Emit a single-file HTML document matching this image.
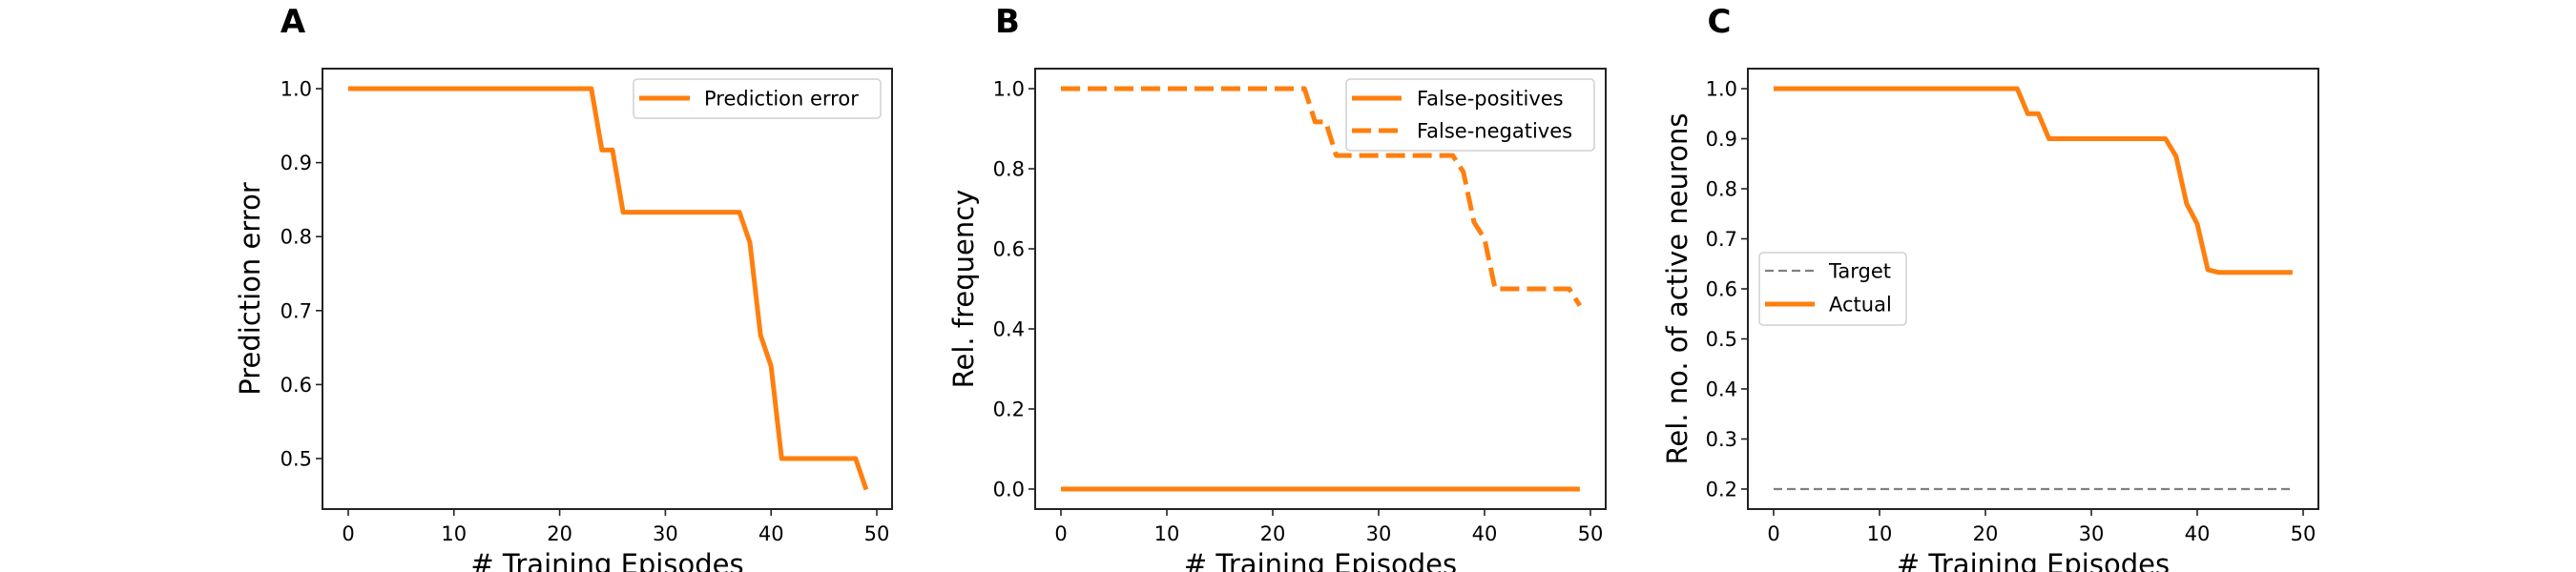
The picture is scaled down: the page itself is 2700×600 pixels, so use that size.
<!DOCTYPE html>
<html><head><meta charset="utf-8"><style>
body{margin:0;background:#fff}
svg{display:block;font-family:"DejaVu Sans","Liberation Sans",sans-serif}
</style></head><body>
<svg id="fig" width="2700" height="600" viewBox="0 0 2700 600"></svg>
<script>
const episodes = Array.from({length:50},(_,i)=>i);
const predError = [1,1,1,1,1,1,1,1,1,1,1,1,1,1,1,1,1,1,1,1,1,1,1,1,0.917,0.917,0.833,0.833,0.833,0.833,0.833,0.833,0.833,0.833,0.833,0.833,0.833,0.833,0.792,0.667,0.625,0.5,0.5,0.5,0.5,0.5,0.5,0.5,0.5,0.458];
const falsePos = new Array(50).fill(0);
const falseNeg = [1,1,1,1,1,1,1,1,1,1,1,1,1,1,1,1,1,1,1,1,1,1,1,1,0.917,0.917,0.833,0.833,0.833,0.833,0.833,0.833,0.833,0.833,0.833,0.833,0.833,0.833,0.792,0.667,0.625,0.5,0.5,0.5,0.5,0.5,0.5,0.5,0.5,0.458];
const actual = [1,1,1,1,1,1,1,1,1,1,1,1,1,1,1,1,1,1,1,1,1,1,1,1,0.95,0.95,0.9,0.9,0.9,0.9,0.9,0.9,0.9,0.9,0.9,0.9,0.9,0.9,0.865,0.77,0.73,0.638,0.633,0.633,0.633,0.633,0.633,0.633,0.633,0.633];
const target = new Array(50).fill(0.2);
const xTicks = [0,10,20,30,40,50];
const yTicksA = [0.5,0.6,0.7,0.8,0.9,1.0];
const yTicksB = [0,0.2,0.4,0.6,0.8,1.0];
const yTicksC = [0.2,0.3,0.4,0.5,0.6,0.7,0.8,0.9,1.0];

const svg=document.getElementById('fig');
const NS='http://www.w3.org/2000/svg';
function mk(tag,attrs,parent,text){const e=document.createElementNS(NS,tag);for(const k in attrs)e.setAttribute(k,attrs[k]);if(text!==undefined)e.textContent=text;(parent||svg).appendChild(e);return e;}
const OR='#ff7f0e';

function panel(cfg){
  const g=mk('g',{});
  
  
  const sx=v=>cfg.x0+(v-0)*(cfg.x50-cfg.x0)/50;
  const sy=v=>cfg.yTop+(cfg.vTop-v)*(cfg.yBot-cfg.yTop)/(cfg.vTop-cfg.vBot);
  const L=mk('text',{x:cfg.letterX,y:34,'font-size':34,'font-weight':'bold','text-anchor':'middle'},g,cfg.letter);
  
  
  cfg.series.forEach(s=>{
    const pts=episodes.map((e,i)=>sx(e).toFixed(1)+','+sy(s.data[i]).toFixed(1)).join(' ');
    const p=mk('polyline',{points:pts,fill:'none',stroke:s.color,'stroke-width':s.w,'stroke-dasharray':s.dash||'none','stroke-linejoin':'round'},g);
    
    
  });
  const box=mk('rect',{x:cfg.left,y:72,width:cfg.right-cfg.left,height:462,fill:'none',stroke:'#222','stroke-width':2},g);
  
  
  xTicks.forEach(t=>{
    const X=sx(t);
    mk('line',{x1:X,y1:534,x2:X,y2:541,stroke:'#222','stroke-width':1.6},g);
    const tl=mk('text',{x:X,y:567,'font-size':21,'text-anchor':'middle'},g,String(t));
    
    
  });
  cfg.yTicks.forEach(t=>{
    const Y=sy(t);
    mk('line',{x1:cfg.left-7,y1:Y,x2:cfg.left,y2:Y,stroke:'#222','stroke-width':1.6},g);
    const tl=mk('text',{x:cfg.left-11,y:Y+7.5,'font-size':21,'text-anchor':'end'},g,t.toFixed(1));
    
    
  });
  const xl=mk('text',{x:(cfg.left+cfg.right)/2,y:602,'font-size':29,'text-anchor':'middle'},g,'# Training Episodes');
  
  
  const yl=mk('text',{x:0,y:0,'font-size':29,'text-anchor':'middle',transform:`translate(${cfg.ylX},303) rotate(-90)`},g,cfg.ylabel);
  
  
  const lg=cfg.legend;
  const lb=mk('rect',{x:lg.x,y:lg.y,width:lg.w,height:lg.h,rx:4,fill:'#fff','fill-opacity':0.8,stroke:'#d0d0d0','stroke-width':1.5},g);
  
  
  lg.items.forEach((it,i)=>{
    const yy=lg.rows[i];
    mk('line',{x1:lg.lx1,y1:yy,x2:lg.lx2,y2:yy,stroke:it.color,'stroke-width':it.w,'stroke-dasharray':it.dash||'none'},g);
    const tt=mk('text',{x:lg.tx,y:yy+7.5,'font-size':21},g,it.label);
    
    
  });
}

panel({letter:'A',letterX:307,left:338,right:935,x0:365,x50:919,yTop:93,vTop:1.0,yBot:481,vBot:0.5,yTicks:yTicksA,ylX:272,ylabel:'Prediction error',
  series:[{name:'prediction-error-line',data:predError,color:OR,w:5}],
  legend:{x:664,y:83,w:259,h:41,lx1:670,lx2:723,tx:738,rows:[103],items:[{label:'Prediction error',color:OR,w:5}]}});
panel({letter:'B',letterX:1056,left:1085,right:1683,x0:1112,x50:1667,yTop:93,vTop:1.0,yBot:513,vBot:0,yTicks:yTicksB,ylX:1020,ylabel:'Rel. frequency',
  series:[{name:'false-positives-line',data:falsePos,color:OR,w:5},{name:'false-negatives-line',data:falseNeg,color:OR,w:5,dash:'20 8'}],
  legend:{x:1411,y:83,w:260,h:75,lx1:1417,lx2:1469,tx:1485,rows:[103,137],items:[{label:'False-positives',color:OR,w:5},{label:'False-negatives',color:OR,w:5,dash:'20 8'}]}});
panel({letter:'C',letterX:1802,left:1832,right:2430,x0:1859,x50:2414,yTop:93,vTop:1.0,yBot:513,vBot:0.2,yTicks:yTicksC,ylX:1768,ylabel:'Rel. no. of active neurons',
  series:[{name:'target-line',data:target,color:'#7f7f7f',w:2.2,dash:'9 5'},{name:'actual-line',data:actual,color:OR,w:5}],
  legend:{x:1844,y:265,w:154,h:76,lx1:1850,lx2:1902,tx:1917,rows:[284,319],items:[{label:'Target',color:'#7f7f7f',w:2.2,dash:'9 5'},{label:'Actual',color:OR,w:5}]}});
</script>
</body></html>
